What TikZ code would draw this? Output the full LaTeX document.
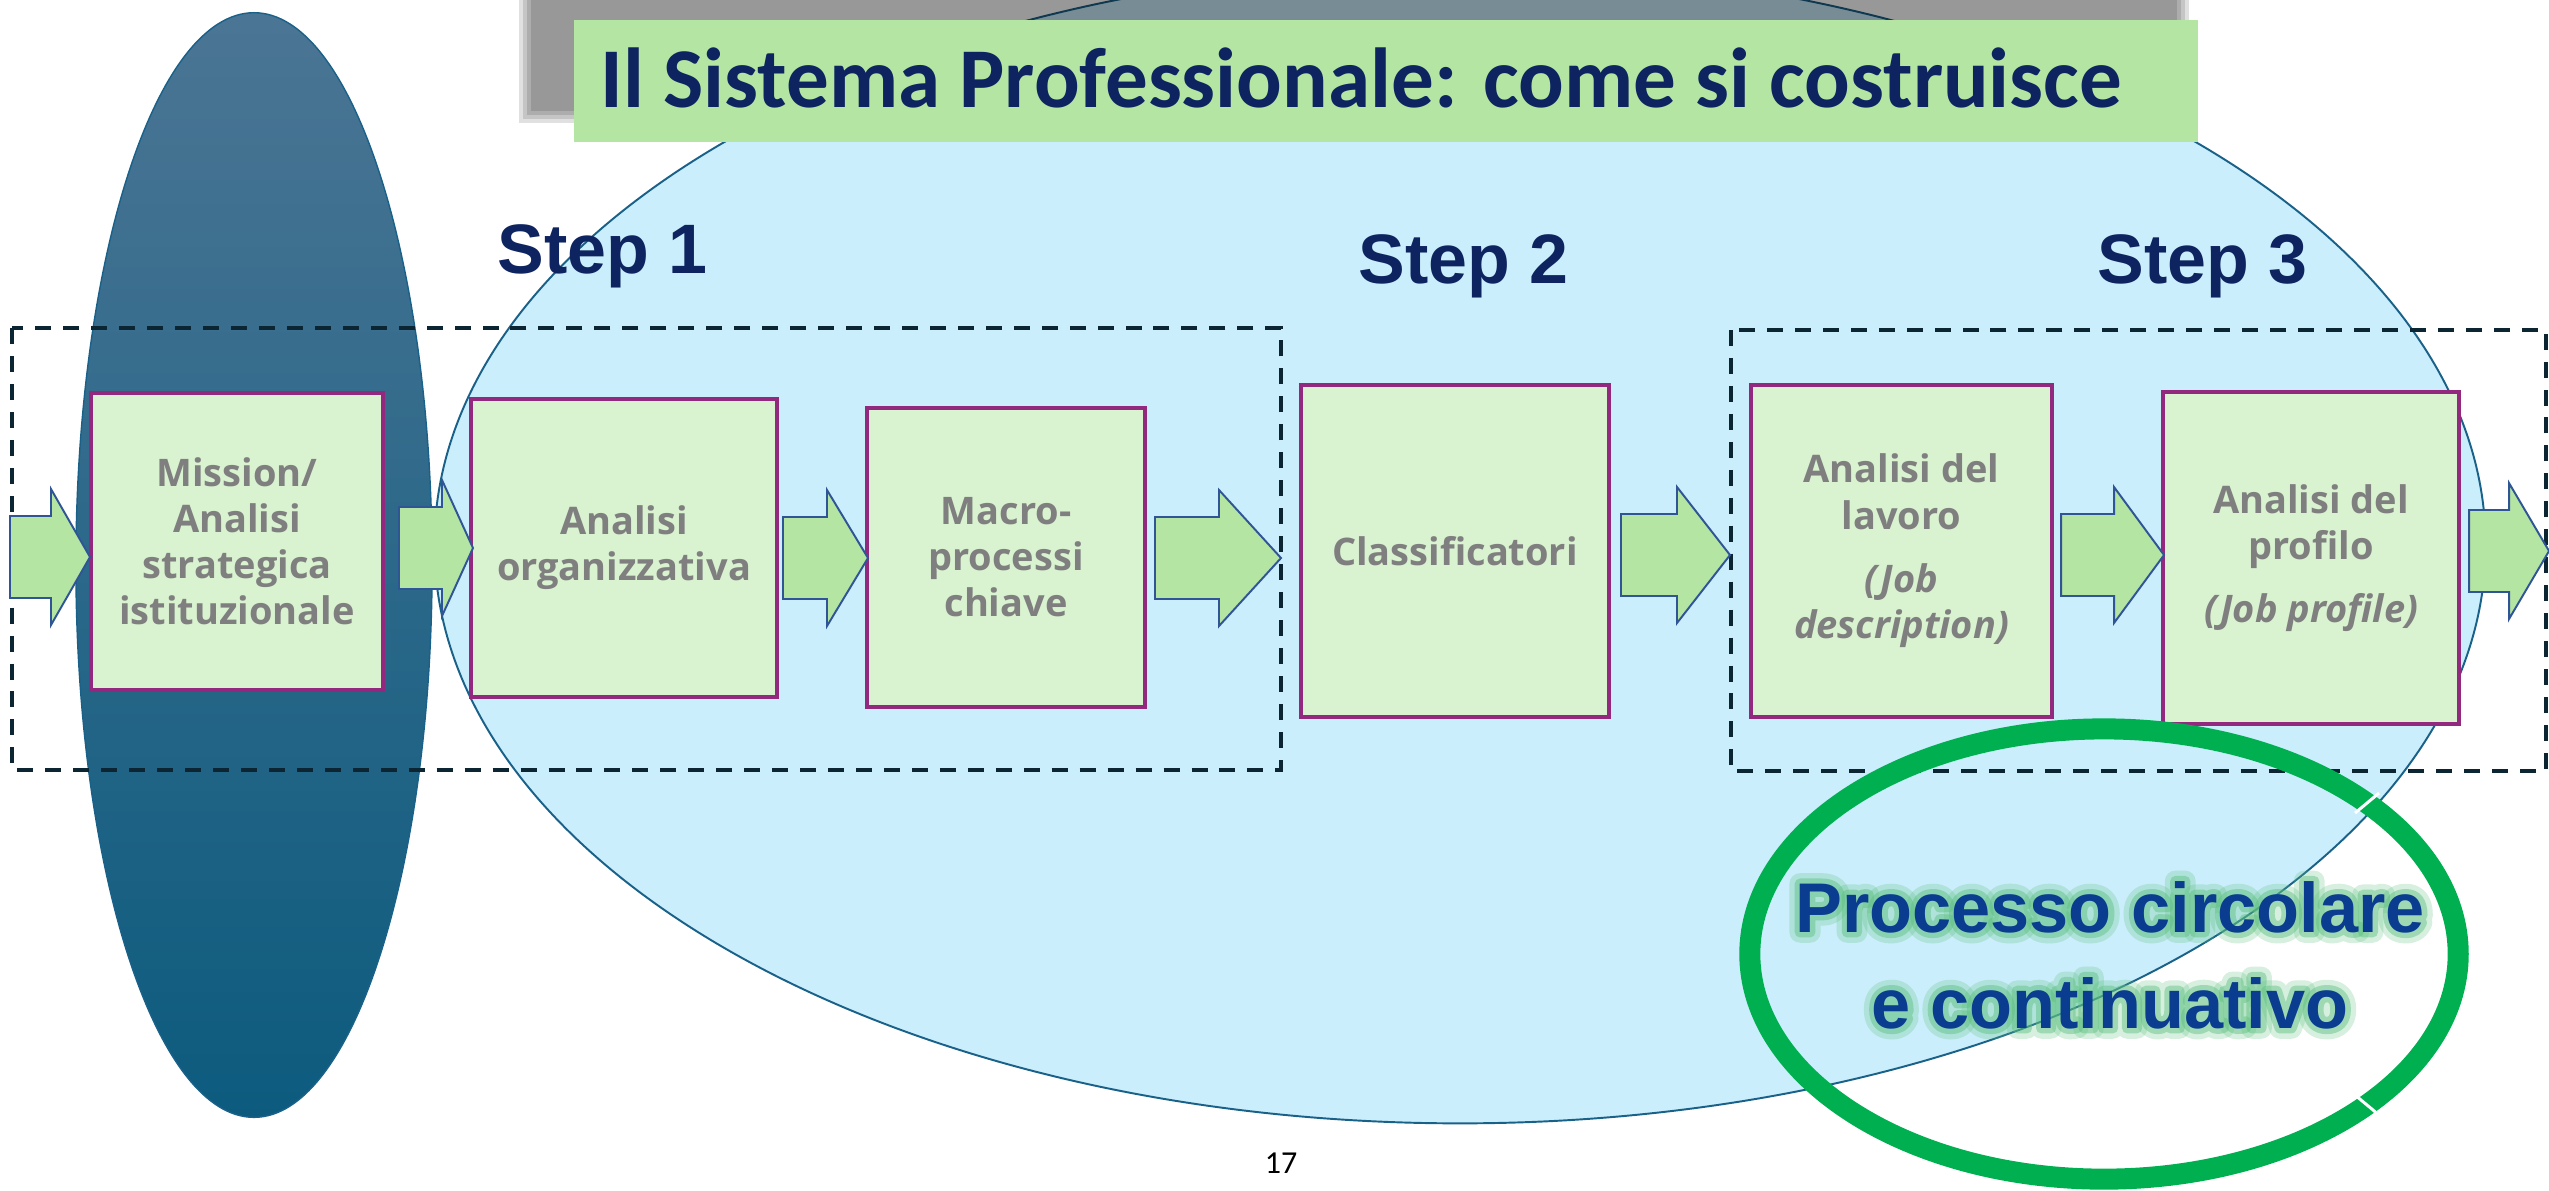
\documentclass[tikz,border=0pt]{standalone}
\usepackage{fontspec}
\setmainfont{Liberation Sans}
\newfontfamily\headfont{Carlito}
\newfontfamily\cardfont{Open Sans}
\usetikzlibrary{shapes.geometric}
\definecolor{skyFill}{HTML}{CAEEFB}
\definecolor{skyEdge}{HTML}{1A6189}
\definecolor{deepTop}{HTML}{4B7594}
\definecolor{deepMid}{HTML}{17648A}
\definecolor{deepBot}{HTML}{0C5B7E}
\definecolor{bannerGreen}{HTML}{B4E5A2}
\definecolor{cardFill}{HTML}{D9F2D0}
\definecolor{cardEdge}{HTML}{93297F}
\definecolor{cardText}{HTML}{7F7F7F}
\definecolor{arrowEdge}{HTML}{2F5597}
\definecolor{frameInk}{HTML}{0B2533}
\definecolor{navyText}{HTML}{0E2460}
\definecolor{loopGreen}{HTML}{00B050}
\definecolor{glowGreen}{HTML}{5CBF7E}
\definecolor{loopText}{HTML}{0A3D8F}

\newcommand{\blockarrow}[4]{%
  \draw[blockarr] (#1,#4-41) -- (#2,#4-41) -- (#2,#4-68) -- (#3,#4)
    -- (#2,#4+68) -- (#2,#4+41) -- (#1,#4+41) -- cycle;
}
% outlined glyphs for the halo behind the caption
\newcommand{\strokedtext}[2]{%
  \special{pdf:literal direct 1 Tr #1 w 1 j}#2\special{pdf:literal direct 0 Tr}%
}

\begin{document}
\begin{tikzpicture}[
  x=0.01cm, y=-0.01cm,
  card/.style={draw=cardEdge, line width=1.15pt, fill=cardFill, text=cardText, align=center,
    font=\cardfont\bfseries\fontsize{10.8}{13.1}\selectfont, inner sep=0pt},
  blockarr/.style={fill=bannerGreen, draw=arrowEdge, line width=0.55pt},
  groupframe/.style={draw=frameInk, line width=1.15pt, dash pattern=on 4.55pt off 3.4pt},
  steplabel/.style={anchor=base west, text=navyText, inner sep=0pt,
    font=\bfseries\fontsize{19.9}{24}\selectfont},
  loopword/.style={align=center, inner sep=0pt, font=\bfseries\fontsize{20}{27.3}\selectfont}
]
\useasboundingbox (0,0) rectangle (2549,1190);

\draw[fill=skyFill, draw=skyEdge, line width=0.55pt] (1460,545) ellipse [x radius=10.25cm, y radius=5.78cm];
\draw[top color=deepTop, middle color=deepMid, bottom color=deepBot, draw=skyEdge, line width=0.4pt]
  (254,565) ellipse [x radius=1.78cm, y radius=5.52cm];

\foreach \d in {-6,-2,2,6}
  \fill[black, opacity=0.12] (525-\d,-20) rectangle (2183+\d,117+\d);
\node[fill=bannerGreen, minimum width=16.23cm, minimum height=1.22cm, inner sep=0pt] (banner) at (1385.5,81) {};
\node[anchor=base west, inner sep=0pt, text=navyText, font=\headfont\bfseries\fontsize{24.2}{29}\selectfont]
  (headline) at (600,107) {Il Sistema Professionale: come si costruisce};

\draw[groupframe] (12,328) rectangle (1281,770);
\draw[groupframe] (1731,330) rectangle (2546,771);

\node[card, minimum width=2.92cm, minimum height=2.97cm] (mission) at (237,541.5)
  {Mission/\\Analisi\\strategica\\istituzionale};
\node[card, minimum width=3.06cm, minimum height=2.98cm] (orgs) at (624,548)
  {Analisi\\organizzativa};
\node[card, minimum width=2.78cm, minimum height=2.99cm] (macro) at (1006,557.5)
  {Macro-\\processi\\chiave};
\node[card, minimum width=3.08cm, minimum height=3.32cm] (classi) at (1455,551)
  {Classificatori};
\node[card, minimum width=3.01cm, minimum height=3.32cm] (lavoro) at (1901.5,551)
  {Analisi del\\lavoro\\[5pt]\itshape(Job\\\itshape description)};
\node[card, minimum width=2.96cm, minimum height=3.32cm] (profilo) at (2311,558)
  {Analisi del\\profilo\\[5pt]\itshape(Job profile)};

\blockarrow{10}{51}{90}{557}
\blockarrow{399}{442}{473}{548}
\blockarrow{783}{827}{868}{558}
\blockarrow{1155}{1219}{1281}{558}
\blockarrow{1621}{1677}{1730}{555}
\blockarrow{2061}{2114}{2164}{555}
\blockarrow{2469}{2509}{2549}{551}

\node[steplabel] (step1) at (497,273) {Step 1};
\node[steplabel] (step2) at (1358,283) {Step 2};
\node[steplabel] (step3) at (2097,283) {Step 3};

\node[ellipse, draw=loopGreen, line width=5.98pt, minimum width=7.08cm, minimum height=4.5cm,
  inner sep=0pt] (cycle) at (2104,954) {};
\draw[white, line width=0.85pt] (2355,813) -- (2379,793);
\draw[white, line width=0.85pt] (2355,1095) -- (2379,1115);
\node[loopword, text=glowGreen, opacity=0.25] (halo) at (2110,955)
  {\strokedtext{6}{Processo circolare}\\\strokedtext{6}{e continuativo}};
\node[loopword, text=glowGreen, opacity=0.45] (innerhalo) at (2110,955)
  {\strokedtext{3}{Processo circolare}\\\strokedtext{3}{e continuativo}};
\node[loopword, text=loopText] (loopcaption) at (2110,955) {Processo circolare\\e continuativo};

\node[inner sep=0pt, font=\headfont\fontsize{9.1}{11}\selectfont] (pageno) at (1281,1163) {17};
\end{tikzpicture}
\end{document}
